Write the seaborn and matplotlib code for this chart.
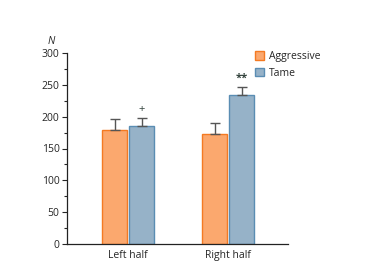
import pandas as pd
import matplotlib.pyplot as plt
import seaborn as sns
from matplotlib.ticker import MultipleLocator

# values
sides = ["Left half", "Right half"]
groups = ["Aggressive", "Tame"]
aggressive = [179, 173]
tame = [185, 234]
aggressive_err = [17, 17]
tame_err = [13, 13]
marks = ["+", "**"]

df = pd.DataFrame({
    "side": sides * 2,
    "group": [groups[0]] * 2 + [groups[1]] * 2,
    "N": aggressive + tame,
    "err": aggressive_err + tame_err,
})

sns.set_style("ticks")
plt.rcParams["font.family"] = ["Open Sans", "DejaVu Sans"]

fig = plt.figure(figsize=(3.75, 2.7), dpi=100)
ax = fig.add_axes([0.179, 0.096, 0.589, 0.708])

fills = {"Aggressive": "#fba86e", "Tame": "#96b2c8"}
edges = {"Aggressive": "#f47a22", "Tame": "#5a8db3"}

sns.barplot(data=df, x="side", y="N", hue="group", order=sides, hue_order=groups,
            palette=fills, saturation=1, width=0.54, gap=0.06, errorbar=None,
            ax=ax, linewidth=1.0, legend=True)

# edge colours and upward error bars, taken from the drawn bars
for cont, g in zip(ax.containers, groups):
    sub = df[df["group"] == g].set_index("side").loc[sides]
    for bar, err in zip(cont, sub["err"]):
        bar.set_edgecolor(edges[g])
        xc = bar.get_x() + bar.get_width() / 2
        h = bar.get_height()
        ax.errorbar(xc, h, yerr=[[0], [err]], fmt="none", ecolor="#555555",
                    elinewidth=1.0, capsize=3.5, capthick=1.0, zorder=1)

# significance marks above tame bars
for bar, m, err in zip(ax.containers[1], marks, tame_err):
    xc = bar.get_x() + bar.get_width() / 2
    ax.text(xc, bar.get_height() + err + 4, m, ha="center", va="bottom",
            fontsize=8, color="#34443e",
            fontweight="bold" if m == "**" else "normal", zorder=5)

ax.set_ylim(0, 300)
ax.set_xlim(-0.61, 1.6)
ax.yaxis.set_major_locator(MultipleLocator(50))
ax.yaxis.set_minor_locator(MultipleLocator(25))
ax.tick_params(axis="y", which="major", length=3.5, width=0.8, labelsize=7.5, pad=2)
ax.tick_params(axis="y", which="minor", length=2, width=0.8)
ax.tick_params(axis="x", length=0, labelsize=7.5, pad=4)
ax.set_xlabel("")
ax.set_ylabel("")
sns.despine(ax=ax)
for s in ["left", "bottom"]:
    ax.spines[s].set_linewidth(0.9)
    ax.spines[s].set_color("#222222")

ax.text(-0.07, 1.03, "N", transform=ax.transAxes, fontsize=7.5, style="italic",
        ha="center", va="bottom")

leg = ax.legend(loc="upper left", bbox_to_anchor=(0.85, 1.01), frameon=False,
                fontsize=7.5, handlelength=0.9, handleheight=0.9,
                handletextpad=0.5, labelspacing=0.55, borderpad=0,
                borderaxespad=0)
for h, g in zip(leg.legend_handles, groups):
    h.set_edgecolor(edges[g])

fig.savefig("out.png", dpi=100)
